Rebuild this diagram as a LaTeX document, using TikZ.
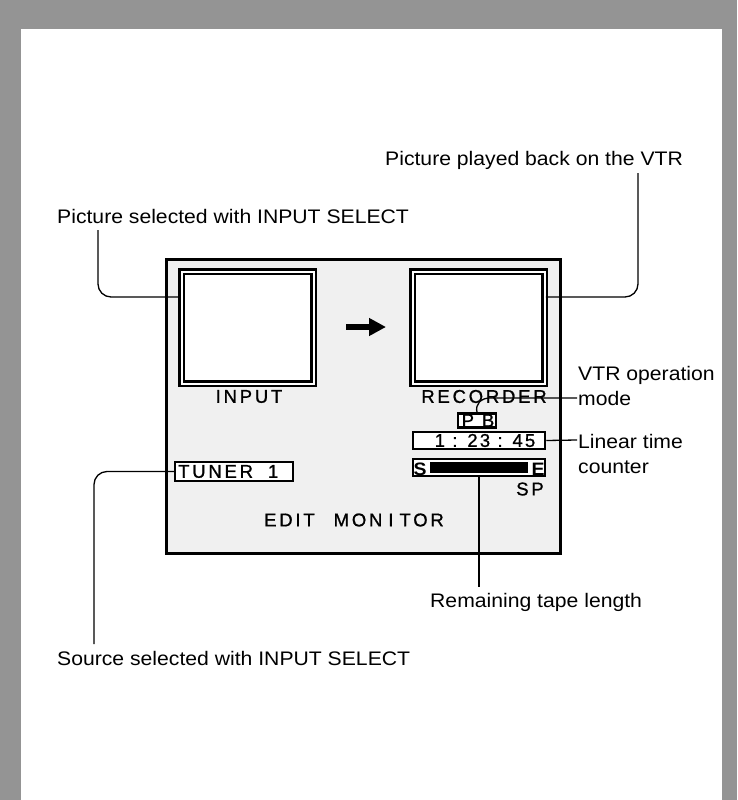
\documentclass[tikz,border=0pt]{standalone}
\usepackage{fontspec}
\setmainfont{Liberation Sans}[FakeStretch=1.08]
\newfontfamily\monfont{Liberation Sans}[LetterSpace=15,FakeBold=1]
\newfontfamily\cntfont{Liberation Sans}[LetterSpace=12,FakeBold=1]
\usetikzlibrary{arrows.meta}
\begin{document}
\begin{tikzpicture}[x=1pt,y=-1pt,
  lbl/.style={font=\fontsize{19.6}{24}\selectfont, inner sep=0pt, anchor=base west},
  mon/.style={font=\monfont\fontsize{18.5}{20}\selectfont, inner sep=0pt},
  screen/.style={draw, line width=2.5pt, double=white, double distance=2pt, fill=white,
    minimum width=132pt, minimum height=112pt, inner sep=0pt},
  dbox/.style={draw, line width=2.5pt, fill=white, inner sep=0pt},
  conn/.style={line width=1.3pt, rounded corners=13pt},
  bigarrow/.style={line width=6pt, -{Triangle[length=17pt,width=17pt]}}
]
\useasboundingbox (0,0) rectangle (737,800);
% page border
\fill[black!42] (0,0) rectangle (737,800);
\fill[white] (21,29) rectangle (722,800);

% monitor
\node[draw, line width=3pt, fill=black!6, minimum width=394pt, minimum height=294pt, inner sep=0pt]
  (monitor) at (363.5,406.5) {};
\node[screen] (inscr) at (247.5,327.5) {};
\node[screen] (recscr) at (478.5,327.5) {};
\coordinate (a1) at (346,327);
\coordinate (a2) at (386,327);
\draw[bigarrow] (a1) -- (a2);

\node[mon] (tinput) at (249,396.5) {INPUT};
\node[mon] (trec) at (484,396.5) {RECORDER};
\node[mon] (tedit) at (354,520) {EDIT\hspace{19pt}MON\hspace{6pt}I\hspace{6pt}TOR};

\node[dbox, minimum width=118pt, minimum height=19pt] (tuner) at (234,471.5) {};
\node[mon, anchor=west] (ttuner) at (178,471.5) {TUNER\hspace{15pt}1};

\node[dbox, minimum width=38pt, minimum height=14pt] (pb) at (477,420.5) {};
\node[mon] (tpb) at (478,420.5) {P B};

\node[dbox, minimum width=132pt, minimum height=17pt] (cnt) at (479,440.5) {};
\node[font=\cntfont\fontsize{18.5}{20}\selectfont, inner sep=0pt] (tcnt) at (485,440.5) {1 : 23 : 45};

\node[dbox, minimum width=132pt, minimum height=17pt] (tape) at (479,467.5) {};
\node[fill=black, minimum width=98pt, minimum height=11pt, inner sep=0pt] (bar) at (479,467.5) {};
\node[font=\bfseries\fontsize{18}{20}\selectfont, inner sep=0pt] (ts) at (420,469.5) {S};
\node[font=\bfseries\fontsize{18}{20}\selectfont, inner sep=0pt] (te) at (538,469.5) {E};
\node[mon] (tsp) at (530,489) {SP};

% labels
\node[lbl] (lpicsel) at (57,223) {Picture selected with INPUT SELECT};
\node[lbl] (lplay) at (385,165) {Picture played back on the VTR};
\node[lbl] (lvtr) at (578,380) {VTR operation};
\node[lbl] (lmode) at (578,405) {mode};
\node[lbl] (llin) at (578,448) {Linear time};
\node[lbl] (lcnt) at (578,473) {counter};
\node[lbl] (lrem) at (430,607) {Remaining tape length};
\node[lbl] (lsrc) at (57,665) {Source selected with INPUT SELECT};

% connectors
\coordinate (h1) at (0,297);
\coordinate (c1) at (98,230);
\coordinate (c2) at (638,173);
\coordinate (c3) at (94,644);
\coordinate (c4) at (479,587);
\coordinate (m1) at (490,398);
\coordinate (m2) at (577,398);
\coordinate (l2) at (577,440);
\draw[conn] (c1) |- (inscr.west |- h1);
\draw[conn] (c2) |- (recscr.east |- h1);
\draw[conn] (tuner.west) -| (c3);
\draw[line width=1.3pt] (m2) -- (m1) .. controls (481,398) and (475,404) .. (pb.north);
\draw[line width=1.3pt] (cnt.east) -- (l2);
\draw[line width=2.4pt] (tape.south) -- (c4);
\end{tikzpicture}
\end{document}
